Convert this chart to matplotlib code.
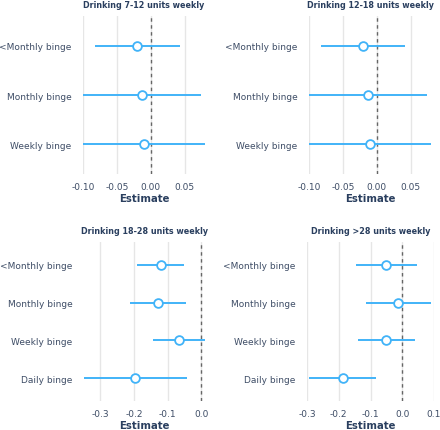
import matplotlib
matplotlib.use("Agg")
import matplotlib.pyplot as plt

# estimates and 95% CI
cats_3 = ["<Monthly binge", "Monthly binge", "Weekly binge"]
cats_4 = ["<Monthly binge", "Monthly binge", "Weekly binge", "Daily binge"]

est_7_12 = [-0.021, -0.013, -0.010]
lo_7_12 = [-0.082, -0.105, -0.105]
hi_7_12 = [0.043, 0.074, 0.085]

est_12_18 = [-0.021, -0.013, -0.010]
lo_12_18 = [-0.082, -0.105, -0.105]
hi_12_18 = [0.041, 0.074, 0.085]

est_18_28 = [-0.120, -0.129, -0.066, -0.196]
lo_18_28 = [-0.190, -0.213, -0.143, -0.348]
hi_18_28 = [-0.052, -0.046, 0.011, -0.042]

est_28 = [-0.050, -0.012, -0.051, -0.188]
lo_28 = [-0.146, -0.114, -0.140, -0.294]
hi_28 = [0.047, 0.090, 0.039, -0.083]

LINE = "#41b3f8"
TICK = "#3e4d66"
TITLE = "#2a3f5f"

W, H = 440, 431
fig = plt.figure(figsize=(W / 100, H / 100), dpi=100)


def px_axes(x0, x1, y0, y1):
    return fig.add_axes([x0 / W, 1 - y1 / H, (x1 - x0) / W, (y1 - y0) / H])


def forest(ax, cats, est, lo, hi, title, xlim, xticks, fmt):
    y = list(range(len(cats)))
    ax.hlines(y, lo, hi, color=LINE, lw=1.4, zorder=3)
    ax.plot(est, y, "o", ms=6.3, mfc="white", mec=LINE, mew=1.3, zorder=4)
    ax.axvline(0, color="#666666", ls=(0, (2.5, 2.5)), lw=1.0, zorder=2)
    ax.set_xlim(*xlim)
    ax.set_ylim(len(cats) - 1 + 0.6, -0.6)
    ax.set_yticks(y)
    ax.set_yticklabels(cats)
    ax.set_xticks(xticks)
    ax.set_xticklabels([fmt.format(v) for v in xticks])
    ax.tick_params(length=0, labelsize=6.5, colors=TICK)
    ax.tick_params(axis="y", pad=8.2)
    ax.tick_params(axis="x", pad=6)
    ax.grid(axis="x", color="#e6e6e6", lw=1.0, zorder=0)
    for s in ax.spines.values():
        s.set_visible(False)
    ax.set_xlabel("Estimate", fontsize=7.3, fontweight="bold", color=TITLE, labelpad=1.5)
    ax.set_title(title, fontsize=5.8, fontweight="bold", color=TITLE, pad=6.5)


ax1 = px_axes(83, 205, 17, 175)
forest(ax1, cats_3, est_7_12, lo_7_12, hi_7_12, "Drinking 7-12 units weekly",
       (-0.1, 0.08), [-0.10, -0.05, 0.00, 0.05], "{:.2f}")

ax2 = px_axes(309, 431, 17, 175)
forest(ax2, cats_3, est_12_18, lo_12_18, hi_12_18, "Drinking 12-18 units weekly",
       (-0.1, 0.08), [-0.10, -0.05, 0.00, 0.05], "{:.2f}")

ax3 = px_axes(84, 205, 243, 402)
forest(ax3, cats_4, est_18_28, lo_18_28, hi_18_28, "Drinking 18-28 units weekly",
       (-0.348, 0.011), [-0.3, -0.2, -0.1, 0.0], "{:.1f}")

ax4 = px_axes(307, 434, 243, 402)
forest(ax4, cats_4, est_28, lo_28, hi_28, "Drinking >28 units weekly",
       (-0.3, 0.1), [-0.3, -0.2, -0.1, 0.0, 0.1], "{:.1f}")

fig.savefig("out.png", dpi=100)
